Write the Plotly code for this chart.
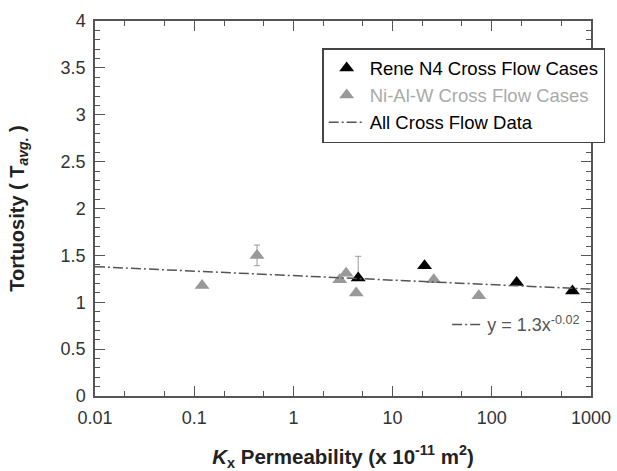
import plotly.graph_objects as go

# Rene N4 cross flow cases (black)
rene_x = [4.5, 21, 178, 650]
rene_y = [1.26, 1.39, 1.21, 1.12]
rene_err_up = [0.23, 0, 0, 0]
rene_err_down = [0, 0, 0, 0]

# Ni-Al-W cross flow cases (gray)
niw_x = [0.12, 0.43, 2.93, 3.4, 4.3, 26, 74]
niw_y = [1.18, 1.50, 1.24, 1.31, 1.10, 1.24, 1.07]
niw_err = [0, 0.11, 0, 0, 0, 0, 0]

# Power-law fit of all cross flow data (endpoints)
fit_x = [0.01, 1000]
fit_y = [1.38, 1.14]
fit_label = "y = 1.3x<sup>-0.02</sup>"

x_ticks = [0.01, 0.1, 1, 10, 100, 1000]
x_ticklabels = ["0.01", "0.1", "1", "10", "100", "1000"]
y_ticks = [0, 0.5, 1, 1.5, 2, 2.5, 3, 3.5, 4]
y_ticklabels = ["0", "0.5", "1", "1.5", "2", "2.5", "3", "3.5", "4"]

BLACK = "#000000"
GRAY = "#999999"
FIT = "#555555"
AXIS = "#555555"
FONT = "Liberation Sans, Arial, sans-serif"
DASH = "10px,3px,2px,3px"

fig = go.Figure()

fig.add_trace(go.Scatter(
    x=niw_x, y=niw_y, mode="markers",
    name="<span style='color:#aaaaaa'>Ni-Al-W Cross Flow Cases</span>",
    marker=dict(symbol="triangle-up", size=13, color=GRAY),
    error_y=dict(type="data", array=niw_err, visible=True, color=GRAY, thickness=1, width=3),
    legend="legend", legendrank=2,
))
fig.add_trace(go.Scatter(
    x=rene_x, y=rene_y, mode="markers",
    name="Rene N4 Cross Flow Cases",
    marker=dict(symbol="triangle-up", size=13, color=BLACK),
    error_y=dict(type="data", symmetric=False, array=rene_err_up, arrayminus=rene_err_down,
                 visible=True, color=GRAY, thickness=1, width=3),
    legend="legend", legendrank=1,
))
fig.add_trace(go.Scatter(
    x=fit_x, y=fit_y, mode="lines",
    name="All Cross Flow Data",
    line=dict(color=FIT, width=1.5, dash=DASH),
    legend="legend", legendrank=3,
))
# fit equation entry
fig.add_trace(go.Scatter(
    x=[None], y=[None], mode="lines",
    name=fit_label,
    line=dict(color=FIT, width=1.5, dash=DASH),
    legend="legend2",
))

axis_common = dict(
    showline=True, linecolor=AXIS, linewidth=1.5, mirror="allticks",
    ticks="inside", ticklen=10, tickwidth=1, tickcolor=AXIS,
    showgrid=False, zeroline=False, automargin=False,
    tickfont=dict(family=FONT, size=18, color="#333333"),
)

fig.update_xaxes(
    type="log", range=[-2, 3],
    tickvals=x_ticks, ticktext=x_ticklabels,
    ticklabelstandoff=5,
    minor=dict(ticks="inside", ticklen=5, tickcolor=AXIS, tickwidth=1, showgrid=False),
    title=dict(text="<b><i>K</i><sub>x</sub> Permeability (x 10<sup>-11</sup> m<sup>2</sup>)</b>",
               font=dict(family=FONT, size=20.5, color="#222222"), standoff=22),
    **axis_common,
)
fig.update_yaxes(
    range=[0, 4],
    tickvals=y_ticks, ticktext=y_ticklabels,
    ticklabelstandoff=4,
    minor=dict(ticks="inside", ticklen=5, dtick=0.1, tickcolor=AXIS, tickwidth=1, showgrid=False),
    title=dict(text="<b>Tortuosity ( T<sub><i>avg.</i></sub> )</b>",
               font=dict(family=FONT, size=20, color="#222222"), standoff=31),
    **axis_common,
)

fig.update_layout(
    width=617, height=471,
    margin=dict(l=95, r=22, t=21, b=75),
    plot_bgcolor="white", paper_bgcolor="white",
    font=dict(family=FONT, color="#111111"),
    showlegend=True,
    legend=dict(
        x=0.458, y=0.928, xanchor="left", yanchor="top",
        bgcolor="white", bordercolor="#444444", borderwidth=1.5,
        font=dict(family=FONT, size=18.5, color="#000000"),
        tracegroupgap=0, itemwidth=36, traceorder="normal",
    ),
    legend2=dict(
        x=0.71, y=0.19, xanchor="left", yanchor="middle",
        bgcolor="rgba(0,0,0,0)", borderwidth=0,
        font=dict(family=FONT, size=18, color="#555555"),
        itemwidth=30,
    ),
)

fig.write_html("out.html")
